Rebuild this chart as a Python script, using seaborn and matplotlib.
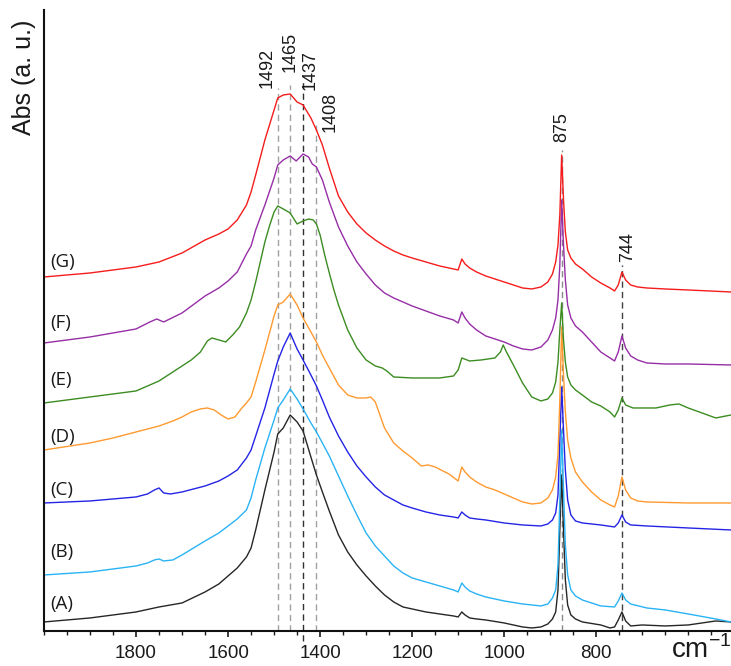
import matplotlib
matplotlib.use("Agg")
import matplotlib.pyplot as plt
from matplotlib.ticker import FixedLocator, MultipleLocator
import seaborn as sns
import pandas as pd

# FTIR spectra (wavenumber in cm-1, absorbance in a.u., stacked for display)
wn_G = [2000, 1900, 1800, 1750, 1700, 1650, 1620, 1600, 1580, 1560, 1550, 1540, 1520, 1500, 1492, 1480, 1465, 1450, 1437, 1420,
        1408, 1395, 1380, 1360, 1340, 1320, 1300, 1280, 1260, 1240, 1220, 1200, 1170, 1140, 1110, 1100, 1092, 1085, 1075, 1060,
        1040, 1020, 1000, 980, 960, 940, 920, 905, 895, 888, 883, 879, 875, 871, 867, 862, 855, 845, 830, 810,
        790, 770, 760, 752, 744, 736, 725, 710, 690, 650, 600, 507]
abs_G = [3.54, 3.58, 3.64, 3.69, 3.78, 3.91, 3.97, 4.02, 4.11, 4.26, 4.39, 4.56, 4.91, 5.21, 5.33, 5.36, 5.37, 5.29, 5.26, 5.13,
         5.01, 4.86, 4.63, 4.35, 4.19, 4.07, 3.98, 3.91, 3.85, 3.80, 3.76, 3.73, 3.69, 3.65, 3.62, 3.61, 3.72, 3.67, 3.63, 3.59,
         3.55, 3.52, 3.49, 3.46, 3.43, 3.42, 3.44, 3.49, 3.57, 3.69, 3.86, 4.16, 4.76, 4.31, 3.99, 3.81, 3.73, 3.67, 3.62, 3.54,
         3.48, 3.43, 3.40, 3.46, 3.59, 3.51, 3.46, 3.44, 3.43, 3.42, 3.41, 3.39]

wn_F = [2000, 1900, 1800, 1770, 1755, 1740, 1700, 1650, 1620, 1600, 1580, 1560, 1550, 1540, 1520, 1500, 1492, 1480, 1465, 1452,
        1437, 1425, 1417, 1408, 1395, 1380, 1360, 1340, 1320, 1300, 1280, 1260, 1240, 1220, 1200, 1170, 1140, 1110, 1100, 1092,
        1085, 1075, 1060, 1040, 1020, 1000, 980, 960, 940, 920, 905, 895, 888, 883, 879, 875, 871, 867, 862, 855,
        845, 830, 810, 790, 770, 760, 752, 744, 736, 725, 710, 690, 650, 600, 507]
abs_F = [2.88, 2.94, 3.02, 3.09, 3.12, 3.09, 3.18, 3.35, 3.43, 3.50, 3.59, 3.77, 3.85, 4.01, 4.26, 4.53, 4.66, 4.71, 4.75, 4.70,
         4.77, 4.74, 4.67, 4.64, 4.51, 4.29, 4.04, 3.85, 3.69, 3.57, 3.46, 3.38, 3.33, 3.29, 3.25, 3.20, 3.15, 3.11, 3.08, 3.19,
         3.13, 3.07, 3.01, 2.95, 2.92, 2.89, 2.85, 2.82, 2.81, 2.84, 2.91, 3.01, 3.13, 3.31, 3.66, 4.31, 3.86, 3.51, 3.26, 3.13,
         3.05, 2.99, 2.89, 2.79, 2.73, 2.70, 2.79, 2.95, 2.83, 2.75, 2.71, 2.68, 2.67, 2.67, 2.66]

wn_E = [2000, 1900, 1800, 1750, 1720, 1700, 1680, 1660, 1645, 1635, 1620, 1605, 1590, 1575, 1560, 1550, 1540, 1530, 1520, 1510,
        1500, 1492, 1480, 1465, 1450, 1437, 1425, 1415, 1408, 1400, 1390, 1380, 1370, 1360, 1340, 1320, 1300, 1280, 1265, 1255,
        1240, 1200, 1140, 1110, 1100, 1092, 1075, 1050, 1020, 1008, 1002, 995, 980, 960, 940, 920, 905, 895, 888, 883,
        879, 875, 871, 867, 862, 855, 845, 830, 810, 790, 770, 760, 752, 744, 736, 720, 700, 670, 640, 620,
        600, 570, 540, 507]
abs_E = [2.28, 2.34, 2.40, 2.50, 2.59, 2.65, 2.71, 2.79, 2.90, 2.93, 2.91, 2.89, 2.96, 3.04, 3.18, 3.31, 3.49, 3.69, 3.89, 4.05,
         4.19, 4.25, 4.22, 4.18, 4.07, 4.10, 4.12, 4.11, 4.07, 3.96, 3.76, 3.58, 3.41, 3.26, 3.01, 2.83, 2.71, 2.65, 2.63, 2.60,
         2.54, 2.53, 2.53, 2.55, 2.61, 2.73, 2.70, 2.71, 2.73, 2.79, 2.86, 2.79, 2.66, 2.48, 2.34, 2.30, 2.32, 2.38, 2.49, 2.69,
         3.01, 3.28, 2.91, 2.69, 2.54, 2.46, 2.41, 2.36, 2.29, 2.25, 2.19, 2.14, 2.21, 2.33, 2.26, 2.23, 2.23, 2.23, 2.26, 2.27,
         2.23, 2.18, 2.13, 2.16]

wn_D = [2000, 1900, 1850, 1800, 1750, 1720, 1700, 1680, 1660, 1645, 1630, 1615, 1600, 1585, 1570, 1560, 1550, 1540, 1520, 1500,
        1492, 1480, 1465, 1450, 1437, 1420, 1408, 1395, 1380, 1360, 1340, 1320, 1300, 1290, 1280, 1270, 1260, 1240, 1220, 1200,
        1180, 1165, 1150, 1120, 1100, 1092, 1085, 1075, 1060, 1040, 1020, 1000, 980, 960, 940, 920, 905, 895, 888, 883,
        879, 875, 871, 867, 862, 855, 845, 830, 810, 790, 770, 760, 752, 744, 736, 725, 710, 690, 600, 507]
abs_D = [1.81, 1.88, 1.93, 1.99, 2.05, 2.10, 2.14, 2.19, 2.22, 2.23, 2.21, 2.16, 2.12, 2.14, 2.23, 2.28, 2.34, 2.49, 2.81, 3.15,
         3.26, 3.29, 3.37, 3.26, 3.13, 2.99, 2.89, 2.76, 2.63, 2.46, 2.36, 2.33, 2.33, 2.34, 2.29, 2.16, 2.03, 1.88, 1.80, 1.73,
         1.65, 1.66, 1.64, 1.57, 1.50, 1.64, 1.59, 1.54, 1.49, 1.44, 1.41, 1.37, 1.33, 1.29, 1.27, 1.28, 1.33, 1.41, 1.54, 1.76,
         2.31, 3.04, 2.56, 2.19, 1.91, 1.73, 1.59, 1.49, 1.39, 1.31, 1.26, 1.24, 1.35, 1.54, 1.41, 1.33, 1.30, 1.29, 1.28, 1.28]

wn_C = [2000, 1900, 1850, 1800, 1775, 1760, 1750, 1740, 1725, 1700, 1650, 1620, 1600, 1580, 1560, 1550, 1540, 1520, 1500, 1492,
        1480, 1465, 1450, 1437, 1420, 1408, 1395, 1380, 1360, 1340, 1320, 1300, 1280, 1260, 1240, 1220, 1200, 1170, 1140, 1110,
        1100, 1092, 1085, 1075, 1060, 1040, 1000, 960, 920, 905, 895, 888, 883, 879, 875, 871, 867, 862, 855, 845,
        830, 790, 760, 752, 744, 736, 725, 690, 600, 507]
abs_C = [1.28, 1.30, 1.32, 1.34, 1.37, 1.41, 1.43, 1.38, 1.37, 1.39, 1.45, 1.50, 1.55, 1.61, 1.73, 1.81, 1.95, 2.23, 2.57, 2.70,
         2.84, 2.98, 2.82, 2.71, 2.56, 2.45, 2.31, 2.14, 1.95, 1.79, 1.65, 1.54, 1.44, 1.36, 1.31, 1.26, 1.23, 1.19, 1.16, 1.14,
         1.13, 1.19, 1.16, 1.13, 1.12, 1.11, 1.08, 1.06, 1.05, 1.07, 1.11, 1.18, 1.36, 1.91, 2.44, 2.01, 1.61, 1.31, 1.16, 1.10,
         1.08, 1.06, 1.04, 1.08, 1.16, 1.09, 1.06, 1.05, 1.03, 1.01]

wn_B = [2000, 1900, 1850, 1800, 1775, 1760, 1750, 1740, 1720, 1700, 1650, 1620, 1600, 1580, 1560, 1550, 1540, 1520, 1500, 1492,
        1480, 1465, 1450, 1437, 1420, 1408, 1395, 1380, 1360, 1340, 1320, 1300, 1280, 1260, 1240, 1220, 1200, 1170, 1140, 1110,
        1100, 1092, 1085, 1075, 1060, 1040, 1000, 960, 920, 905, 895, 888, 883, 879, 875, 871, 867, 862, 855, 845,
        830, 790, 760, 752, 744, 736, 725, 690, 650, 600, 540, 507]
abs_B = [0.56, 0.59, 0.62, 0.65, 0.68, 0.71, 0.72, 0.70, 0.71, 0.76, 0.90, 0.98, 1.05, 1.12, 1.21, 1.33, 1.51, 1.83, 2.11, 2.23,
         2.31, 2.42, 2.32, 2.22, 2.08, 1.99, 1.88, 1.75, 1.55, 1.35, 1.16, 0.98, 0.85, 0.75, 0.65, 0.58, 0.53, 0.49, 0.45, 0.41,
         0.39, 0.48, 0.44, 0.40, 0.37, 0.34, 0.30, 0.27, 0.25, 0.27, 0.33, 0.41, 0.66, 1.31, 2.01, 1.41, 0.86, 0.56, 0.41, 0.35,
         0.31, 0.25, 0.24, 0.30, 0.38, 0.31, 0.27, 0.23, 0.21, 0.17, 0.12, 0.09]

wn_A = [2000, 1900, 1850, 1800, 1750, 1700, 1650, 1620, 1600, 1580, 1560, 1550, 1540, 1520, 1500, 1492, 1480, 1465, 1450, 1437,
        1420, 1408, 1395, 1380, 1360, 1340, 1320, 1300, 1280, 1260, 1240, 1220, 1200, 1170, 1140, 1110, 1100, 1092, 1085, 1075,
        1060, 1040, 1000, 960, 940, 920, 905, 895, 888, 883, 879, 875, 871, 867, 862, 855, 845, 830, 790, 770,
        760, 752, 744, 736, 725, 700, 650, 600, 570, 540, 507]
abs_A = [0.09, 0.13, 0.16, 0.19, 0.24, 0.28, 0.39, 0.47, 0.55, 0.63, 0.74, 0.83, 1.01, 1.41, 1.79, 1.97, 2.03, 2.16, 2.09, 2.00,
         1.74, 1.56, 1.39, 1.20, 0.96, 0.79, 0.66, 0.55, 0.45, 0.36, 0.29, 0.24, 0.22, 0.19, 0.17, 0.15, 0.14, 0.19, 0.16, 0.13,
         0.12, 0.11, 0.08, 0.04, 0.03, 0.04, 0.07, 0.12, 0.19, 0.41, 1.01, 1.56, 1.01, 0.51, 0.26, 0.16, 0.12, 0.09, 0.06, 0.03,
         0.04, 0.11, 0.19, 0.10, 0.05, 0.06, 0.05, 0.06, 0.08, 0.10, 0.09]

series_names = ["(A)", "(B)", "(C)", "(D)", "(E)", "(F)", "(G)"]
series_wn = [wn_A, wn_B, wn_C, wn_D, wn_E, wn_F, wn_G]
series_abs = [abs_A, abs_B, abs_C, abs_D, abs_E, abs_F, abs_G]
label_y = [0.27, 0.79, 1.41, 1.94, 2.51, 3.08, 3.69]
colors = ["#262626", "#29b3f5", "#2424e6", "#ff9a30", "#3c8c22", "#962ea6", "#f51c1c"]

# marked band positions: wavenumber, top of guide line, label x, label bottom, line colour
band_wn = [1492, 1465, 1437, 1408, 875, 744]
band_top = [5.43, 5.46, 5.51, 5.06, 4.81, 3.66]
band_label_x = [1515, 1465, 1422, 1378, 875, 732]
band_label_y = [5.43, 5.59, 5.41, 4.99, 4.89, 3.69]
band_colors = ["#a0a0a0", "#a0a0a0", "#303030", "#a0a0a0", "#8a8a8a", "#404040"]

sns.set_style("ticks")
plt.rcParams["font.family"] = ["Liberation Sans", "DejaVu Sans"]

fig = plt.figure(figsize=(7.31, 6.66), dpi=100)
ax = fig.add_axes([0.0602, 0.0526, 0.9398, 0.9324])

for name, wn, ab, col in zip(series_names, series_wn, series_abs, colors):
    df = pd.DataFrame({"wn": wn, "abs": ab})
    sns.lineplot(data=df, x="wn", y="abs", ax=ax, color=col, linewidth=1.0,
                 estimator=None, sort=False)

for name, y in zip(series_names, label_y):
    ax.text(1987, y, name, ha="left", va="center", fontsize=13.5,
            family=["Open Sans", "DejaVu Sans"], color="#1a1a1a")

for w, top, lx, ly, c in zip(band_wn, band_top, band_label_x, band_label_y, band_colors):
    bottom = -0.1 if w == 1437 else 0.0
    ax.vlines(w, bottom, top, colors=c, linewidth=1.0, linestyles=(0, (4.5, 3)), clip_on=False, zorder=0)
    ax.text(lx, ly, str(w), rotation=90, ha="center", va="bottom", fontsize=13, color="#1a1a1a")

ax.set_xlim(2000, 507)
ax.set_ylim(0, 6.21)
ax.xaxis.set_major_locator(FixedLocator([1800, 1600, 1400, 1200, 1000, 800]))
ax.xaxis.set_minor_locator(MultipleLocator(50))
ax.set_yticks([])
ax.tick_params(axis="x", which="major", length=4, width=1.2, pad=6, labelsize=13.5, colors="#1a1a1a")
ax.tick_params(axis="x", which="minor", length=3, width=1.0, colors="#1a1a1a")
ax.set_xlabel("")
ax.set_ylabel("")
for s in ["top", "right"]:
    ax.spines[s].set_visible(False)
for s in ["left", "bottom"]:
    ax.spines[s].set_linewidth(1.5)
    ax.spines[s].set_color("#111111")

fig.text(0.033, 0.884, "Abs (a. u.)", rotation=90, ha="center", va="center", fontsize=18, color="#1a1a1a")
fig.text(0.918, 0.012, r"cm$^{\mathregular{-1}}$", ha="left", va="baseline", fontsize=20, color="#1a1a1a")

fig.savefig("out.png", dpi=100)
